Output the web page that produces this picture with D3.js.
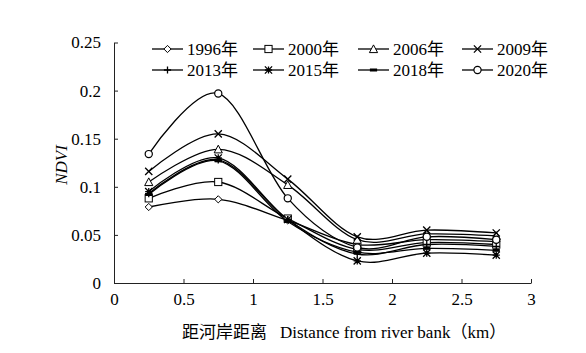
<!DOCTYPE html>
<html>
<head>
<meta charset="utf-8">
<script src="https://cdn.jsdelivr.net/npm/d3@7"></script>
<style>
  body { margin: 0; background: #fff; }
  svg text { font-family: "Liberation Serif", "Noto Sans CJK SC", serif !important; fill: #000; }
</style>
</head>
<body>
<div id="chart"></div>
<script>
// distances from river bank (km)
const distances = [0.25, 0.75, 1.25, 1.75, 2.25, 2.75];
const years = ["1996年", "2000年", "2006年", "2009年", "2013年", "2015年", "2018年", "2020年"];
const markers = ["diamond", "square", "triangle", "x", "plus", "star", "dash", "circle"];

// NDVI per year
const ndvi1996 = [0.079, 0.087, 0.065, 0.040, 0.045, 0.043];
const ndvi2000 = [0.088, 0.105, 0.067, 0.035, 0.042, 0.040];
const ndvi2006 = [0.105, 0.139, 0.102, 0.045, 0.051, 0.049];
const ndvi2009 = [0.116, 0.155, 0.108, 0.048, 0.055, 0.052];
const ndvi2013 = [0.093, 0.128, 0.066, 0.030, 0.040, 0.038];
const ndvi2015 = [0.095, 0.130, 0.066, 0.023, 0.031, 0.029];
const ndvi2018 = [0.092, 0.127, 0.064, 0.032, 0.036, 0.034];
const ndvi2020 = [0.134, 0.197, 0.088, 0.037, 0.048, 0.045];

const xTicks = [0, 0.5, 1, 1.5, 2, 2.5, 3];
const yTicks = [0, 0.05, 0.1, 0.15, 0.2, 0.25];

const seriesValues = [ndvi1996, ndvi2000, ndvi2006, ndvi2009, ndvi2013, ndvi2015, ndvi2018, ndvi2020];
const series = years.map((y, i) => ({
    name: y,
    marker: markers[i],
    values: distances.map((d, j) => ({x: d, y: seriesValues[i][j]}))
}));

const width = 586, height = 353;

const svg = d3.select("#chart")
    .append("svg")
    .attr("width", width)
    .attr("height", height);

const xScale = d3.scaleLinear().domain([0, 3]).range([114, 531]);
const yScale = d3.scaleLinear().domain([0, 0.25]).range([283, 42.5]);

// axes (ticks pointing inward)
const xAxis = d3.axisBottom(xScale)
    .tickValues(xTicks)
    .tickSizeInner(-4)
    .tickSizeOuter(0)
    .tickPadding(10)
    .tickFormat(d3.format("~g"));

const yAxis = d3.axisLeft(yScale)
    .tickValues(yTicks)
    .tickSizeInner(-4)
    .tickSizeOuter(0)
    .tickPadding(13)
    .tickFormat(d3.format("~g"));

const gx = svg.append("g")
    .attr("transform", `translate(0,${yScale(0)})`)
    .call(xAxis);

const gy = svg.append("g")
    .attr("transform", `translate(${xScale(0)},0)`)
    .call(yAxis);

[gx, gy].forEach(g => {
    g.attr("font-family", null).attr("font-size", null);
    g.selectAll("text").style("font-size", "17px");
    g.selectAll("path, line").attr("stroke", "#222").attr("stroke-width", 1);
});

// marker drawing
function drawMarker(g, type) {
    const s = 3.6;
    if (type === "diamond") {
        g.append("path").attr("d", `M0,${-s}L${s},0L0,${s}L${-s},0Z`)
            .attr("fill", "#fff").attr("stroke", "#000").attr("stroke-width", 1);
    } else if (type === "square") {
        g.append("rect").attr("x", -s).attr("y", -s).attr("width", 2 * s).attr("height", 2 * s)
            .attr("fill", "#fff").attr("stroke", "#000").attr("stroke-width", 1);
    } else if (type === "triangle") {
        g.append("path").attr("d", `M0,${-s - 0.5}L${s + 0.5},${s}L${-s - 0.5},${s}Z`)
            .attr("fill", "#fff").attr("stroke", "#000").attr("stroke-width", 1);
    } else if (type === "circle") {
        g.append("circle").attr("r", s)
            .attr("fill", "#fff").attr("stroke", "#000").attr("stroke-width", 1.2);
    } else if (type === "x") {
        g.append("path").attr("d", `M${-s},${-s}L${s},${s}M${-s},${s}L${s},${-s}`)
            .attr("stroke", "#000").attr("stroke-width", 1.3);
    } else if (type === "plus") {
        g.append("path").attr("d", `M0,${-s}L0,${s}M${-s},0L${s},0`)
            .attr("stroke", "#000").attr("stroke-width", 1.3);
    } else if (type === "star") {
        g.append("path").attr("d", `M${-s},${-s}L${s},${s}M${-s},${s}L${s},${-s}M0,${-s}L0,${s}M${-s},0L${s},0`)
            .attr("stroke", "#000").attr("stroke-width", 1.3);
    } else if (type === "dash") {
        g.append("rect").attr("x", -s).attr("y", -1.5).attr("width", 2 * s).attr("height", 3)
            .attr("fill", "#000");
    }
}

// smoothed lines
const line = d3.line()
    .x(d => xScale(d.x))
    .y(d => yScale(d.y))
    .curve(d3.curveCardinal.tension(0));

svg.selectAll(".series-line")
    .data(series)
    .enter()
    .append("path")
    .attr("class", "series-line")
    .attr("d", d => line(d.values))
    .attr("fill", "none")
    .attr("stroke", "#000")
    .attr("stroke-width", 1.3);

series.forEach(s => {
    s.values.forEach(v => {
        const g = svg.append("g")
            .attr("transform", `translate(${xScale(v.x)},${yScale(v.y)})`);
        drawMarker(g, s.marker);
    });
});

// legend
const legendCols = [152, 253, 358, 462];
const legendRows = [49, 70];
series.forEach((s, i) => {
    const lx = legendCols[i % 4];
    const ly = legendRows[Math.floor(i / 4)];
    const g = svg.append("g").attr("transform", `translate(${lx},${ly})`);
    g.append("line")
        .attr("x1", 0).attr("x2", 31)
        .attr("y1", 0).attr("y2", 0)
        .attr("stroke", "#000").attr("stroke-width", 1.3);
    drawMarker(g.append("g").attr("transform", "translate(15.5,0)"), s.marker);
    g.append("text")
        .attr("x", 35)
        .attr("y", 0)
        .attr("dy", "0.35em")
        .style("font-size", "17px")
        .text(s.name);
});

// axis titles
svg.append("text")
    .attr("transform", "translate(67,165) rotate(-90)")
    .attr("text-anchor", "middle")
    .style("font-size", "17px")
    .style("font-style", "italic")
    .text("NDVI");

const xTitle = svg.append("text")
    .attr("x", 182)
    .attr("y", 332)
    .attr("dy", "0.35em")
    .style("font-size", "17px");
xTitle.append("tspan").text("距河岸距离");
xTitle.append("tspan").attr("dx", 13).text("Distance from river bank（km）");
</script>
</body>
</html>
